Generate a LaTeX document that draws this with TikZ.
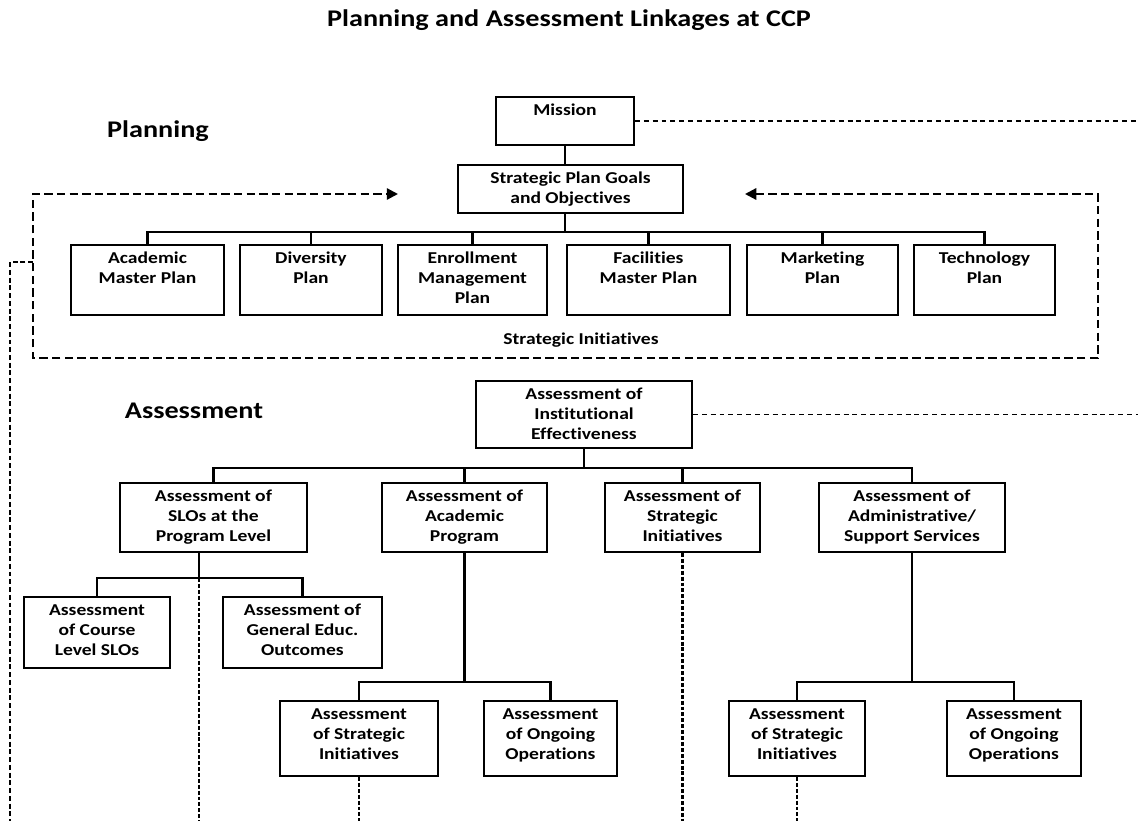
\documentclass[tikz,border=0pt]{standalone}
\usepackage{fontspec}
\setmainfont{Carlito}[FakeStretch=1.18, Ligatures=CommonOff]
\usepackage{tikz}
\usetikzlibrary{arrows, arrows.meta}

\newlength{\unitpx}
\setlength{\unitpx}{0.025cm}
% box of fixed size, text set at its top
\newcommand{\boxtext}[3]{\parbox[c][#2\unitpx][t]{#1\unitpx}{\centering\rule{0pt}{13.5pt}#3}}

\begin{document}
\begin{tikzpicture}[x=0.025cm, y=-0.025cm, font=\bfseries\fontsize{11.8}{14.2}\selectfont]

\tikzstyle{box} = [rectangle, draw=black, line width=1.4pt, inner sep=0pt, anchor=north west]
\tikzstyle{heading} = [font=\bfseries\fontsize{17}{20}\selectfont]
\tikzstyle{link} = [line width=1.5pt]
\tikzstyle{loopline} = [line width=1.6pt, dash pattern=on 6pt off 3pt, {Triangle[length=8pt, width=8pt]}-{Triangle[length=8pt, width=8pt]}]
\tikzstyle{outline} = [line width=0.8pt, dash pattern=on 3.5pt off 2.8pt]
\tikzstyle{dropline} = [line width=1.6pt, dash pattern=on 2.8pt off 1.4pt]

\useasboundingbox (0,0) rectangle (1138,821);

% Edges of the page
\coordinate (edgeR) at (1138,0);
\coordinate (bottom) at (0,821);

% Headings
\node (title) [heading] at (569,20) {Planning and Assessment Linkages at CCP};
\node (planning) [heading] at (158,131) {Planning};
\node (assessment) [heading] at (194,411) {Assessment};

% Planning nodes
\node (mission) [box] at (495,96) {\boxtext{138}{48}{Mission}};
\node (goals) [box] at (457,164) {\boxtext{225}{48}{Strategic Plan Goals\\and Objectives}};
\node (academic) [box] at (70,244) {\boxtext{153}{70}{Academic\\Master Plan}};
\node (diversity) [box] at (239,244) {\boxtext{142}{70}{Diversity\\Plan}};
\node (enrollment) [box] at (397,244) {\boxtext{149}{70}{Enrollment\\Management\\Plan}};
\node (facilities) [box] at (566,244) {\boxtext{163}{70}{Facilities\\Master Plan}};
\node (marketing) [box] at (746,244) {\boxtext{151}{70}{Marketing\\Plan}};
\node (technology) [box] at (913,244) {\boxtext{141}{70}{Technology\\Plan}};
\node (initiatives) at (581,340) {Strategic Initiatives};

% Assessment nodes
\node (effectiveness) [box] at (475,380) {\boxtext{216}{67}{Assessment of\\Institutional\\Effectiveness}};
\node (sloprog) [box] at (119,482) {\boxtext{187}{69}{Assessment of\\SLOs at the\\Program Level}};
\node (acadprog) [box] at (381,482) {\boxtext{165}{69}{Assessment of\\Academic\\Program}};
\node (stratinit) [box] at (604,482) {\boxtext{155}{69}{Assessment of\\Strategic\\Initiatives}};
\node (support) [box] at (818,482) {\boxtext{186}{69}{Assessment of\\Administrative/\\Support Services}};
\node (course) [box] at (23,596) {\boxtext{146}{71}{Assessment\\of Course\\Level SLOs}};
\node (geneduc) [box] at (222,596) {\boxtext{159}{71}{Assessment of\\General Educ.\\Outcomes}};
\node (acadsi) [box] at (279,700) {\boxtext{158}{75}{Assessment\\of Strategic\\Initiatives}};
\node (acadops) [box] at (483,700) {\boxtext{133}{75}{Assessment\\of Ongoing\\Operations}};
\node (supsi) [box] at (728,700) {\boxtext{136}{75}{Assessment\\of Strategic\\Initiatives}};
\node (supops) [box] at (946,700) {\boxtext{134}{75}{Assessment\\of Ongoing\\Operations}};

% Planning tree
\draw [link] (mission.south) -- (mission.south |- goals.north);
\draw [link] (goals.south -| mission.south) -- ++(0,18) coordinate (planbar);
\foreach \plan in {academic, diversity, enrollment, facilities, marketing, technology}
  \draw [link] (planbar) -| (\plan);

% Feedback loop round the plans
\coordinate (inL) at (398,194);
\coordinate (inR) at (745,194);
\coordinate (loopSE) at (1098,358);
\coordinate (loopNW) at (33,194);
\coordinate (tapL) at (33,262);
\coordinate (downL) at (10,821);
\draw [loopline] (inR) -| (loopSE) -| (loopNW) -- (inL);
\draw [line width=1.3pt, dash pattern=on 3.5pt off 2pt] (tapL) -| (downL);

% Links out to the right
\draw [outline] (mission.east) -- (mission.east -| edgeR);
\draw [outline] (effectiveness.east) -- (effectiveness.east -| edgeR);

% Assessment tree
\draw [link] (effectiveness.south) -- ++(0,19) coordinate (iebar);
\foreach \unit in {sloprog, acadprog, stratinit, support}
  \draw [link] (iebar) -| (\unit);

\coordinate (slojoin) at (199,578);
\draw [link] (sloprog.south -| slojoin) -- (slojoin);
\draw [link] (slojoin) -| (course);
\draw [link] (slojoin) -| (geneduc);

\draw [link] (acadprog.south) -- ++(0,129) coordinate (acadbar);
\draw [link] (acadbar) -| (acadsi);
\draw [link] (acadbar) -| (acadops);

\draw [link] (support.south) -- ++(0,129) coordinate (supbar);
\draw [link] (supbar) -| (supsi);
\draw [link] (supbar) -| (supops);

% Dashed drops to the page foot
\draw [dropline] (slojoin) -- (slojoin |- bottom);
\draw [dropline] (acadsi.south) -- (acadsi.south |- bottom);
\draw [dropline] (stratinit.south) -- (stratinit.south |- bottom);
\draw [dropline] (supsi.south) -- (supsi.south |- bottom);

\end{tikzpicture}
\end{document}
